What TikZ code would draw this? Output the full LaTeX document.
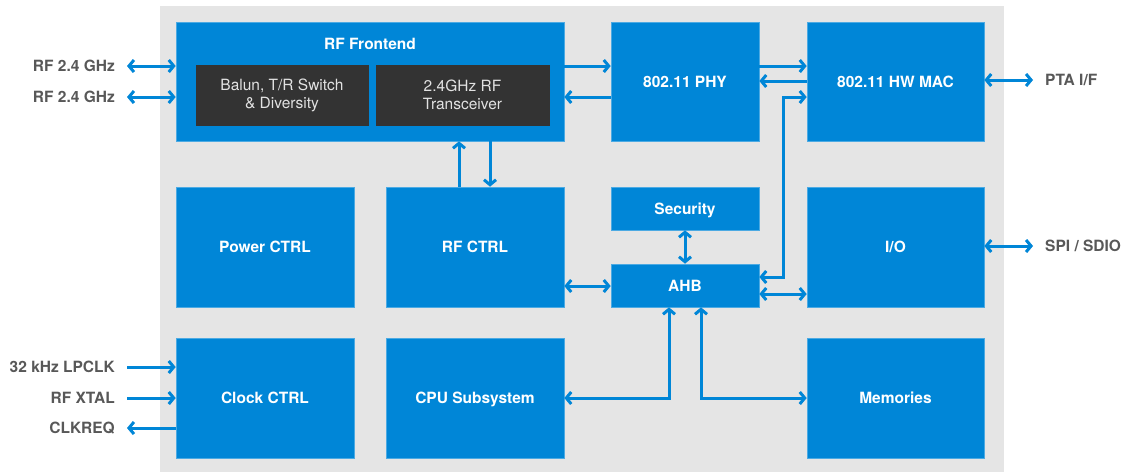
\documentclass[tikz,border=0pt]{standalone}
\usepackage{fontspec}
\setmainfont{TeX Gyre Heros}
\usetikzlibrary{arrows.meta}
\definecolor{blk}{HTML}{0086D7}
\definecolor{bg}{HTML}{E5E5E5}
\definecolor{dark}{HTML}{333333}
\definecolor{lab}{HTML}{585858}
\definecolor{lt}{HTML}{E2E2E2}
\tikzset{
  box/.style={fill=blk, draw=blk!70!white, line width=0.6pt, text=white, font=\bfseries\fontsize{15.5}{18}\selectfont, inner sep=0pt, align=center, text height=11pt, text depth=0pt},
  ttl/.style={text=white, font=\bfseries\fontsize{15.5}{18}\selectfont, inner sep=0pt},
  sub/.style={fill=dark, draw=dark, text=lt, font=\fontsize{15.5}{18}\selectfont, inner sep=0pt, align=center},
  sig/.style={text=lab, font=\bfseries\fontsize{15.5}{18}\selectfont, inner sep=0pt},
  con/.style={draw=blk, line width=3pt, >={Straight Barb[length=5pt,width=12pt]}},
}
\begin{document}
\begin{tikzpicture}[x=1pt,y=-1pt]
\useasboundingbox (0,0) rectangle (1127,472);
\fill[bg] (160,6) rectangle (1004,472);
% boxes
\node[box, minimum width=388pt, minimum height=119pt] (rf) at (370,81.5) {};
\node[ttl, anchor=base] (rft) at (370,49) {RF Frontend};
\node[sub, minimum width=172pt, minimum height=60pt] (balun) at (282,95) {Balun, T/R Switch\\\& Diversity};
\node[sub, minimum width=173pt, minimum height=60pt] (trx) at (462.5,95) {2.4GHz RF\\Transceiver};
\node[box, minimum width=148pt, minimum height=119pt] (phy) at (685,81.5) {802.11 PHY};
\node[box, minimum width=177pt, minimum height=119pt] (mac) at (895.5,81.5) {802.11 HW MAC};
\node[box, minimum width=178pt, minimum height=120pt] (pwr) at (265,247) {Power CTRL};
\node[box, minimum width=178pt, minimum height=120pt] (rfc) at (475,247) {RF CTRL};
\node[box, minimum width=148pt, minimum height=43pt] (sec) at (685,208.5) {Security};
\node[box, minimum width=148pt, minimum height=43pt] (ahb) at (685,285.5) {AHB};
\node[box, minimum width=177pt, minimum height=120pt] (io) at (895.5,247) {I/O};
\node[box, minimum width=178pt, minimum height=120pt] (clk) at (265,398) {Clock CTRL};
\node[box, minimum width=178pt, minimum height=120pt] (cpu) at (475,398) {CPU Subsystem};
\node[box, minimum width=177pt, minimum height=120pt] (mem) at (895.5,398) {Memories};
% external labels
\node[sig, anchor=east] (l1) at (115,66) {RF 2.4 GHz};
\node[sig, anchor=east] (l2) at (115,97) {RF 2.4 GHz};
\node[sig, anchor=east] (l3) at (115,367) {32 kHz LPCLK};
\node[sig, anchor=east] (l4) at (115,398) {RF XTAL};
\node[sig, anchor=east] (l5) at (115,428) {CLKREQ};
\node[sig, anchor=west] (r1) at (1045,80) {PTA I/F};
\node[sig, anchor=west] (r2) at (1045,246) {SPI / SDIO};
% connectors
\draw[con, <->] ([xshift=12pt]l1.east) -- (l1.east -| rf.west);
\draw[con, <->] ([xshift=12pt]l2.east) -- (l2.east -| rf.west);
\draw[con, ->] ([xshift=12pt]l3.east) -- (l3.east -| clk.west);
\draw[con, ->] ([xshift=12pt]l4.east) -- (l4.east -| clk.west);
\draw[con, <-] ([xshift=12pt]l5.east) -- (l5.east -| clk.west);
\draw[con, <->] (mac.east |- r1.west) -- ([xshift=-12pt]r1.west);
\draw[con, <->] (io.east |- r2.west) -- ([xshift=-12pt]r2.west);
\draw[con, ->] (rf.east |- 0,66) -- (phy.west |- 0,66);
\draw[con, <-] (rf.east |- 0,97) -- (phy.west |- 0,97);
\draw[con, ->] (phy.east |- 0,66) -- (mac.west |- 0,66);
\draw[con, <-] (phy.east |- 0,81) -- (mac.west |- 0,81);
\coordinate (j1) at (783,277);
\coordinate (j2) at (783,97);
\draw[con, <->] (ahb.east |- j1) -- (j1) -- (j2) -- (mac.west |- j2);
\draw[con, <->] (sec.south) -- (ahb.north);
\draw[con, <->] (rfc.east |- 0,286) -- (ahb.west |- 0,286);
\draw[con, <->] (ahb.east |- 0,294) -- (io.west |- 0,294);
\draw[con, <-] (rf.south -| 459,0) -- (rfc.north -| 459,0);
\draw[con, ->] (rf.south -| 490,0) -- (rfc.north -| 490,0);
\coordinate (j3) at (669,398);
\coordinate (j4) at (701,398);
\draw[con, <->] (ahb.south -| j3) -- (j3) -- (cpu.east |- j3);
\draw[con, <->] (ahb.south -| j4) -- (j4) -- (mem.west |- j4);
\end{tikzpicture}
\end{document}
